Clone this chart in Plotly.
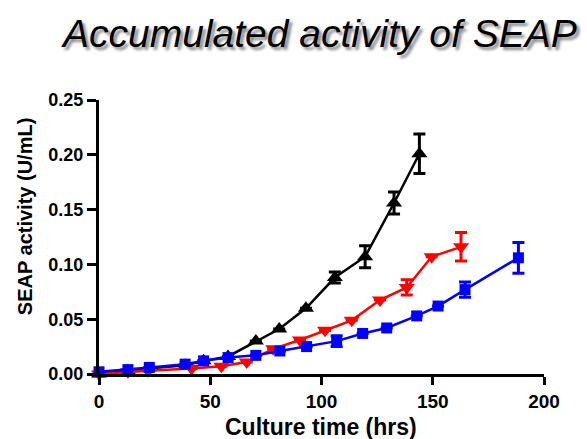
import plotly.graph_objects as go

# Black (upward triangles)
black_t = [0, 13, 22, 39, 47, 58, 70.5, 81, 93, 106, 119.6, 132.6, 144]
black_y = [0.0, 0.003, 0.005, 0.008, 0.012, 0.016, 0.030, 0.041, 0.060, 0.088, 0.107, 0.156, 0.201]
black_e = [None, None, None, None, None, None, None, None, None, 0.005, 0.010, 0.010, 0.018]

# Red (downward triangles)
red_t = [0, 13, 22, 41.6, 55, 66.4, 78.3, 90.3, 101.6, 113.6, 126.3, 138.3, 149.5, 162.7]
red_y = [0.0, 0.002, 0.003, 0.005, 0.007, 0.011, 0.023, 0.031, 0.040, 0.049, 0.0675, 0.079, 0.107, 0.116]
red_e = [None, None, None, None, None, None, None, None, None, None, None, 0.007, None, 0.013]

# Blue (squares)
blue_t = [0, 13, 22.6, 38.7, 47, 58, 70.5, 81.3, 93.3, 106.8, 118.5, 129.3, 142.8, 152.4, 164.5, 188.5]
blue_y = [0.002, 0.004, 0.006, 0.009, 0.012, 0.015, 0.017, 0.021, 0.025, 0.030, 0.037, 0.042, 0.053, 0.062, 0.077, 0.106]
blue_e = [None, None, None, None, None, None, None, None, None, 0.005, None, None, None, None, 0.007, 0.014]

x_ticks = [0, 50, 100, 150, 200]
y_ticks = [0.00, 0.05, 0.10, 0.15, 0.20, 0.25]

FONT = "Liberation Sans, Arial"

def series(t, y, e, color, symbol, size):
    return go.Scatter(
        x=t, y=y, mode="lines+markers",
        line=dict(color=color, width=2.5),
        marker=dict(color=color, symbol=symbol, size=size),
        error_y=dict(type="data", array=e, color=color, thickness=3, width=6, visible=True),
        cliponaxis=False, showlegend=False,
    )

fig = go.Figure()
fig.add_trace(series(black_t, black_y, black_e, "black", "triangle-up", 14))
fig.add_trace(series(red_t, red_y, red_e, "#ff0000", "triangle-down", 14))
fig.add_trace(series(blue_t, blue_y, blue_e, "#0000ff", "square", 11))

fig.update_layout(
    width=587, height=439,
    margin=dict(l=99, r=43, t=100, b=65, autoexpand=False),
    paper_bgcolor="white", plot_bgcolor="white",
    title=dict(
        text="<i>Accumulated activity of SEAP</i>",
        x=0.545, xanchor="center", y=0.925, yanchor="middle",
        font=dict(family=FONT, size=39, color="black",
                  shadow="3px 3px 3px #888888"),
    ),
    xaxis=dict(
        range=[0, 200], tickvals=x_ticks, ticktext=[str(v) for v in x_ticks],
        showgrid=False, zeroline=False, showline=True, linecolor="black", linewidth=3,
        ticks="outside", ticklen=8, tickwidth=3, tickcolor="black",
        tickfont=dict(family=FONT, size=19, color="black", weight="bold"),
        automargin=False,
    ),
    yaxis=dict(
        range=[0, 0.25], tickvals=y_ticks, ticktext=[f"{v:.2f}" for v in y_ticks],
        showgrid=False, zeroline=False, showline=True, linecolor="black", linewidth=3,
        ticks="outside", ticklen=9, tickwidth=3, tickcolor="black",
        tickfont=dict(family=FONT, size=18, color="black", weight="bold"),
        ticklabelstandoff=0, automargin=False,
    ),
    annotations=[
        dict(
            text="SEAP activity (U/mL)", textangle=-90,
            xref="paper", yref="paper", x=-0.166, y=0.573,
            xanchor="center", yanchor="middle", showarrow=False,
            font=dict(family=FONT, size=20, color="black", weight="bold"),
        ),
        dict(
            text="Culture time (hrs)",
            xref="paper", yref="paper", x=0.499, y=-0.195,
            xanchor="center", yanchor="middle", showarrow=False,
            font=dict(family=FONT, size=23, color="black", weight="bold"),
        ),
    ],
)

fig.write_html("out.html")
